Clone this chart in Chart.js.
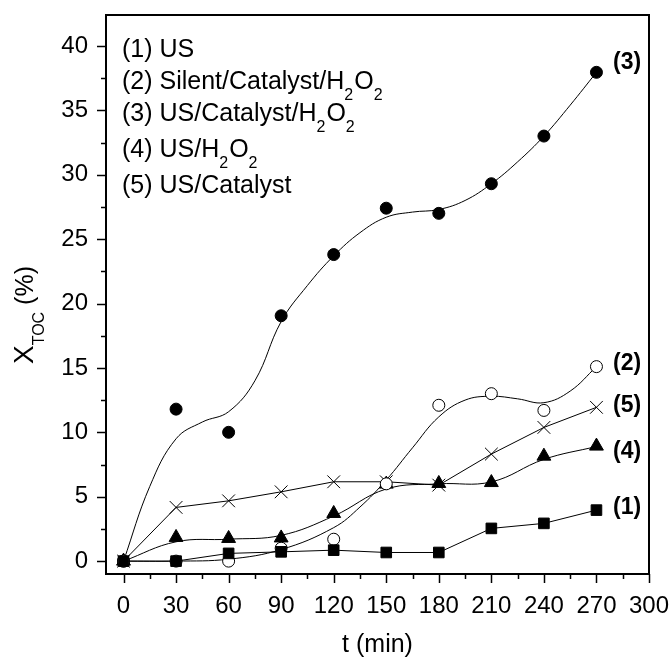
<!DOCTYPE html>
<html>
<head>
<meta charset="utf-8">
<script src="https://cdn.jsdelivr.net/npm/chart.js@4.4.1/dist/chart.umd.min.js"></script>
<style>
  html,body{margin:0;padding:0;background:#fff}
  #wrap{width:671px;height:661px;position:relative}
</style>
</head>
<body>
<div id="wrap"><canvas id="toc"></canvas></div>
<script>
// ── DATA ────────────────────────────────────────────────────────────────
const times = [0, 30, 60, 90, 120, 150, 180, 210, 240, 270];

// measured points
const usOnly       = [0, 0, 0.6, 0.72, 0.85, 0.67, 0.67, 2.54, 2.93, 3.96];   // (1)
const silentCatH2O2 = [0, 0, 0, 1.0, 1.7, 6.0, 12.1, 13.0, 11.7, 15.1];      // (2)
const usCatH2O2    = [0, 11.8, 10.0, 19.05, 23.8, 27.4, 27.0, 29.3, 33.0, 37.95]; // (3)
const usH2O2       = [0, 1.84, 1.76, 1.8, 3.7, 5.98, 6.03, 6.1, 8.15, 8.93];  // (4)
const usCat        = [0, 4.17, 4.68, 5.38, 6.16, 6.16, 5.9, 8.31, 10.38, 11.94]; // (5)

// smoothed curves
const fitTimes2 = [0, 30, 60, 90, 120, 135, 150, 165, 180, 195, 210, 225, 240, 255, 270];
const fit2      = [0, 0, 0.15, 0.9, 2.6, 4.2, 6.3, 8.8, 11.2, 12.5, 12.8, 12.6, 12.3, 13.2, 15.1];
const fitTimes3 = [0, 15, 30, 45, 60, 75, 90, 105, 120, 135, 150, 165, 180, 195, 210, 225, 240, 255, 270];
const fit3      = [0, 5.8, 9.5, 10.8, 11.6, 14.0, 18.6, 21.4, 23.7, 25.5, 26.7, 27.1, 27.3, 28.0, 29.3, 31.0, 33.0, 35.4, 37.95];
const fitTimes4 = [0, 30, 60, 90, 120, 150, 180, 210, 240, 270];
const fit4      = [0, 1.5, 1.7, 2.0, 3.5, 5.6, 6.0, 6.15, 7.9, 8.9];

const xTicks = [0, 30, 60, 90, 120, 150, 180, 210, 240, 270, 300];
const yTicks = [0, 5, 10, 15, 20, 25, 30, 35, 40];

const legendLines = [
  ['(1) US'],
  ['(2) Silent/Catalyst/H', '2', 'O', '2'],
  ['(3) US/Catalyst/H', '2', 'O', '2'],
  ['(4) US/H', '2', 'O', '2'],
  ['(5) US/Catalyst'],
];
const legendBaselines = [57, 89, 121, 157, 193];
const endLabels = [
  {text:'(1)', series: usOnly, dy: -2},
  {text:'(2)', series: silentCatH2O2, dy: -3},
  {text:'(3)', series: usCatH2O2, dy: -10},
  {text:'(4)', series: usH2O2, dy: 6},
  {text:'(5)', series: usCat, dy: -2},
];

const FONT = "'Liberation Sans', Arial, sans-serif";
const pts = (xs, ys) => xs.map((x, i) => ({x, y: ys[i]}));

// ── DRAWING HELPERS ───────────────────────────────────────────────────────
const frame = {
  id: 'frame',
  afterDraw(chart) {
    const {ctx, chartArea: a, scales: {x, y}} = chart;
    ctx.save();
    ctx.strokeStyle = '#000';
    ctx.lineWidth = 2;
    ctx.strokeRect(a.left, a.top, a.right - a.left, a.bottom - a.top);

    // ticks, outward
    ctx.lineWidth = 1.5;
    ctx.beginPath();
    for (let t = 0; t <= 300; t += 15) {
      const px = Math.round(x.getPixelForValue(t)) + 0.5;
      const len = t % 30 === 0 ? 9 : 5;
      ctx.moveTo(px, a.bottom); ctx.lineTo(px, a.bottom + len);
    }
    for (let v = 0; v <= 40; v += 2.5) {
      const py = Math.round(y.getPixelForValue(v)) + 0.5;
      const len = v % 5 === 0 ? 9 : 5;
      ctx.moveTo(a.left, py); ctx.lineTo(a.left - len, py);
    }
    ctx.stroke();

    ctx.fillStyle = '#000';

    // legend text with subscripts (subscript hangs below the baseline)
    ctx.textBaseline = 'alphabetic';
    legendLines.forEach((parts, k) => {
      const ly = legendBaselines[k];
      let lx = 122;
      parts.forEach(p => {
        const sub = p === '2';
        ctx.font = sub ? `16px ${FONT}` : `25px ${FONT}`;
        ctx.fillText(p, lx, sub ? ly + 11 : ly);
        lx += ctx.measureText(p).width + (sub ? 1 : 0);
      });
    });

    // end labels
    ctx.textBaseline = 'middle';
    ctx.font = `bold 23px ${FONT}`;
    endLabels.forEach(l => {
      const v = l.series[l.series.length - 1];
      ctx.fillText(l.text, 613, y.getPixelForValue(v) + l.dy);
    });

    // x title
    ctx.font = `25px ${FONT}`;
    ctx.textAlign = 'center';
    ctx.fillText('t (min)', (a.left + a.right) / 2, 645);

    // y title, rotated
    ctx.textBaseline = 'alphabetic';
    ctx.translate(33, 364);
    ctx.rotate(-Math.PI / 2);
    ctx.textAlign = 'left';
    ctx.font = `28px ${FONT}`;
    ctx.fillText('X', 0, 0);
    let w = ctx.measureText('X').width;
    ctx.font = `16px ${FONT}`;
    ctx.fillText('TOC', w, 11);
    w += ctx.measureText('TOC').width;
    ctx.font = `25px ${FONT}`;
    ctx.fillText(' (%)', w, 0);
    ctx.restore();
  }
};

// ── CHART ─────────────────────────────────────────────────────────────────
const curve = (data) => ({
  type: 'line', data, borderColor: '#000', borderWidth: 1, pointRadius: 0,
  tension: 0.4, fill: false, order: 2
});

const noPad = s => { s.paddingTop = 0; s.paddingBottom = 0; s.paddingLeft = 0; s.paddingRight = 0; };

new Chart(document.getElementById('toc'), {
  type: 'scatter',
  data: {
    datasets: [
      {data: pts(times, usOnly), pointStyle: 'rect', pointRadius: 7.5, backgroundColor: '#000', borderColor: '#000', borderWidth: 1, showLine: true, order: 1},
      {data: pts(times, silentCatH2O2), pointStyle: 'circle', pointRadius: 6, backgroundColor: '#fff', borderColor: '#000', borderWidth: 1, order: 1},
      {data: pts(times, usCatH2O2), pointStyle: 'circle', pointRadius: 6, backgroundColor: '#000', borderColor: '#000', borderWidth: 1, order: 1},
      {data: pts(times, usH2O2), pointStyle: 'triangle', pointRadius: 8, backgroundColor: '#000', borderColor: '#000', borderWidth: 1, order: 1},
      {data: pts(times, usCat), pointStyle: 'crossRot', pointRadius: 9, backgroundColor: '#000', borderColor: '#000', borderWidth: 1, showLine: true, order: 1},
      curve(pts(fitTimes2, fit2)),
      curve(pts(fitTimes3, fit3)),
      curve(pts(fitTimes4, fit4)),
    ]
  },
  options: {
    responsive: true, maintainAspectRatio: false, animation: false,
    layout: {padding: {left: 0, right: 22, top: 15, bottom: 0}},
    plugins: {legend: {display: false}, tooltip: {enabled: false}},
    scales: {
      x: {
        type: 'linear', min: -10, max: 300,
        afterBuildTicks: s => { s.ticks = xTicks.map(v => ({value: v})); },
        afterFit: s => { s.height = 87; noPad(s); },
        grid: {display: false, drawTicks: false},
        border: {display: false},
        ticks: {color: '#000', font: {family: FONT, size: 24}, padding: 18, maxRotation: 0, autoSkip: false}
      },
      y: {
        type: 'linear', min: -1, max: 42.4,
        afterBuildTicks: s => { s.ticks = yTicks.map(v => ({value: v})); },
        afterFit: s => { s.width = 106; noPad(s); },
        grid: {display: false, drawTicks: false},
        border: {display: false},
        ticks: {color: '#000', font: {family: FONT, size: 24}, padding: 18}
      }
    }
  },
  plugins: [frame]
});
</script>
</body>
</html>
